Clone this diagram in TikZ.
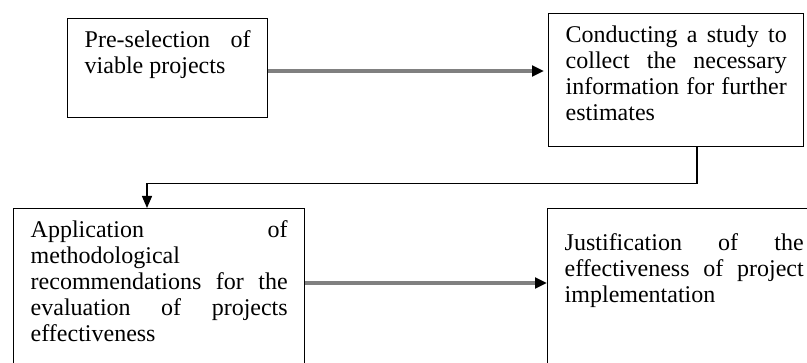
\documentclass[tikz,border=0pt]{standalone}
\usepackage{fontspec}
\setmainfont{Liberation Serif}
\usetikzlibrary{arrows.meta}

\definecolor{flowgrey}{RGB}{128,128,128}
\tikzset{
  stepbox/.style={draw, line width=1.1pt, inner xsep=12.75pt, inner ysep=0pt, anchor=north west},
  flow/.style={draw=flowgrey, line width=2.6pt, -{Triangle[length=9pt,width=8pt,black]}},
  link/.style={line width=1pt, -{Triangle[length=9pt,width=7.5pt]}}
}
% text of a box: width, height, first baseline, text
\newcommand{\steptext}[4]{\parbox[t][#2][t]{#1}{\hyphenpenalty=10000\exhyphenpenalty=10000\rule{0pt}{#3}#4}}

\begin{document}
\begin{tikzpicture}[x=1pt,y=1pt]
\useasboundingbox (0,0) rectangle (605.25,-272.25);
\clip (0,0) rectangle (605.25,-272.25);
\fontsize{18}{19.5}\selectfont

\node[stepbox] (select) at (50.25,-13.5)
  {\steptext{124.5pt}{74.25pt}{21.75pt}{Pre-selection of\linebreak viable projects}};
\node[stepbox] (study) at (411,-9.75)
  {\steptext{165.75pt}{99.75pt}{21.75pt}{Conducting a study to\linebreak collect the necessary\linebreak information for further\linebreak estimates}};
\node[stepbox] (apply) at (9.75,-156)
  {\steptext{192.75pt}{130pt}{21.75pt}{Application of\linebreak methodological\linebreak recommendations for the\linebreak evaluation of projects\linebreak effectiveness}};
\node[stepbox] (justify) at (410.25,-156)
  {\steptext{179.25pt}{130pt}{31.5pt}{Justification of the\linebreak effectiveness of project\linebreak implementation}};

% connectors
\coordinate (a1) at ([yshift=-39.75pt]select.north east);
\draw[flow, shorten >=3pt] (a1) -- (a1 -| study.west);

\coordinate (c1) at ([xshift=111.75pt]study.south west);
\coordinate (c2) at ([xshift=100.5pt]apply.north west);
\draw[link] (c1) -- ++(0,-27) -| (c2);

\coordinate (a2) at ([yshift=-56.25pt]apply.north east);
\draw[flow] (a2) -- (a2 -| justify.west);
\end{tikzpicture}
\end{document}
